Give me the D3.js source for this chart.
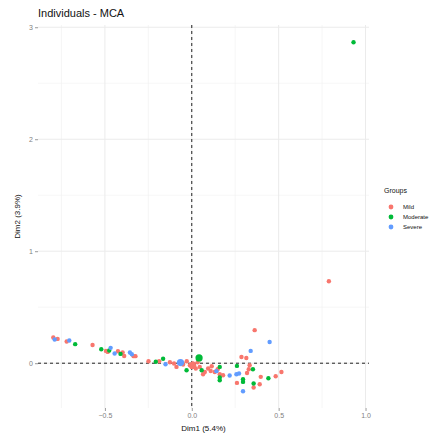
<!DOCTYPE html>
<html>
<head>
<meta charset="utf-8">
<script src="https://cdn.jsdelivr.net/npm/d3@7"></script>
<style>
  body { margin: 0; background: #fff; }
  svg { display: block; font-family: "Liberation Sans", Arial, sans-serif; }
</style>
</head>
<body>
<svg width="441" height="438"></svg>
<script>
// groups and their colours
const groups = ["Mild", "Moderate", "Severe"];
const groupColors = ["#F8766D", "#00BA38", "#619CFF"];

// individuals (Dim1, Dim2)
const mildPts = [
  [-0.797, 0.229], [-0.772, 0.217], [-0.720, 0.194], [-0.571, 0.163],
  [-0.494, 0.110], [-0.484, 0.101], [-0.425, 0.107], [-0.398, 0.096],
  [-0.389, 0.065], [-0.335, 0.063], [-0.324, 0.063], [-0.249, 0.018],
  [-0.188, 0.018], [-0.126, 0.009], [-0.102, -0.003], [-0.050, -0.012],
  [-0.088, -0.033], [-0.011, -0.018], [0.000, -0.033], [0.007, -0.003],
  [0.023, -0.047], [0.046, -0.033], [0.075, -0.078], [0.094, -0.047],
  [0.065, -0.098], [0.109, -0.069], [0.132, -0.078], [0.161, -0.098],
  [0.180, -0.107], [0.286, 0.056], [0.314, 0.047], [0.362, 0.295],
  [0.318, -0.087], [0.333, -0.018], [0.328, -0.054], [0.397, -0.122],
  [0.483, -0.116], [0.516, -0.078], [0.789, 0.732], [0.260, -0.176],
  [0.356, -0.217], [0.391, -0.188], [-0.029, 0.018], [0.034, 0.009],
  [0.115, -0.027], [0.149, -0.054]
];
const moderatePts = [
  [-0.671, 0.170], [-0.521, 0.125], [-0.475, 0.113], [-0.410, 0.083],
  [-0.207, 0.013], [-0.165, 0.040], [-0.030, -0.063], [0.057, -0.063],
  [0.161, -0.033], [0.161, -0.128], [0.260, -0.024], [0.352, -0.054],
  [0.441, -0.134], [0.161, -0.152], [0.295, -0.143], [0.295, -0.167],
  [0.356, -0.181], [0.931, 2.866]
];
const severePts = [
  [-0.789, 0.212], [-0.705, 0.203], [-0.467, 0.137], [-0.444, 0.087],
  [-0.356, 0.096], [-0.345, 0.080], [-0.151, -0.009], [0.142, -0.071],
  [0.218, -0.110], [0.257, -0.098], [0.272, -0.092], [0.339, 0.110],
  [0.448, 0.190], [0.295, -0.250]
];
// group mean points
const groupMeans = [[0.005, -0.020], [0.042, 0.047], [-0.065, 0.006]];

const xTicks = [-0.5, 0.0, 0.5, 1.0];
const yTicks = [0, 1, 2, 3];
const xMinor = [-0.75, -0.25, 0.25, 0.75];
const yMinor = [0.5, 1.5, 2.5];

const svg = d3.select("svg");
const panel = {left: 38, right: 369, top: 25, bottom: 408};

const x = d3.scaleLinear().domain([-0.885, 1.02]).range([panel.left, panel.right]);
const y = d3.scaleLinear().domain([-0.40, 3.02]).range([panel.bottom, panel.top]);
const color = d3.scaleOrdinal().domain(groups).range(groupColors);

// grid
const grid = svg.append("g");
grid.selectAll(".gxm").data(xMinor).enter().append("line")
  .attr("x1", d => x(d)).attr("x2", d => x(d))
  .attr("y1", panel.top).attr("y2", panel.bottom)
  .attr("stroke", "#f0f0f0").attr("stroke-width", 0.6);
grid.selectAll(".gym").data(yMinor).enter().append("line")
  .attr("y1", d => y(d)).attr("y2", d => y(d))
  .attr("x1", panel.left).attr("x2", panel.right)
  .attr("stroke", "#f0f0f0").attr("stroke-width", 0.6);
grid.selectAll(".gx").data(xTicks).enter().append("line")
  .attr("x1", d => x(d)).attr("x2", d => x(d))
  .attr("y1", panel.top).attr("y2", panel.bottom)
  .attr("stroke", "#ebebeb").attr("stroke-width", 1);
grid.selectAll(".gy").data(yTicks).enter().append("line")
  .attr("y1", d => y(d)).attr("y2", d => y(d))
  .attr("x1", panel.left).attr("x2", panel.right)
  .attr("stroke", "#ebebeb").attr("stroke-width", 1);

// axes (ticks + labels only)
const xAxis = svg.append("g")
  .attr("transform", "translate(0," + panel.bottom + ")")
  .call(d3.axisBottom(x).tickValues(xTicks).tickFormat(d3.format(".1f")).tickSize(3).tickPadding(2));
const yAxis = svg.append("g")
  .attr("transform", "translate(" + panel.left + ",0)")
  .call(d3.axisLeft(y).tickValues(yTicks).tickFormat(d3.format("d")).tickSize(3).tickPadding(2));
[xAxis, yAxis].forEach(a => {
  a.select(".domain").remove();
  a.selectAll(".tick line").attr("stroke", "#9a9a9a");
  a.selectAll(".tick text").attr("fill", "#808080").style("font-size", "7px")
    .style("font-family", "Liberation Sans, Arial, sans-serif");
});

// reference lines at 0
svg.append("line")
  .attr("x1", x(0)).attr("x2", x(0)).attr("y1", panel.top).attr("y2", panel.bottom)
  .attr("stroke", "#222").attr("stroke-width", 1).attr("stroke-dasharray", "3,3");
svg.append("line")
  .attr("y1", y(0)).attr("y2", y(0)).attr("x1", panel.left).attr("x2", panel.right)
  .attr("stroke", "#222").attr("stroke-width", 1).attr("stroke-dasharray", "3,3");

// points
const pts = [];
mildPts.forEach(p => pts.push({g: "Mild", x: p[0], y: p[1]}));
moderatePts.forEach(p => pts.push({g: "Moderate", x: p[0], y: p[1]}));
severePts.forEach(p => pts.push({g: "Severe", x: p[0], y: p[1]}));

svg.append("g").selectAll("circle").data(pts).enter().append("circle")
  .attr("cx", d => x(d.x)).attr("cy", d => y(d.y)).attr("r", 2.2)
  .attr("fill", d => color(d.g));

svg.append("g").selectAll("circle").data(groupMeans).enter().append("circle")
  .attr("cx", d => x(d[0])).attr("cy", d => y(d[1])).attr("r", 3.6)
  .attr("fill", (d, i) => groupColors[i]);

// titles
svg.append("text").attr("x", panel.left).attr("y", 17)
  .style("font-size", "11px").attr("fill", "#111").text("Individuals - MCA");
svg.append("text").attr("x", (panel.left + panel.right) / 2).attr("y", 431)
  .attr("text-anchor", "middle").style("font-size", "8px").attr("fill", "#111")
  .text("Dim1 (5.4%)");
svg.append("text")
  .attr("transform", "translate(20," + (panel.top + panel.bottom) / 2 + ") rotate(-90)")
  .attr("text-anchor", "middle").style("font-size", "8px").attr("fill", "#111")
  .text("Dim2 (3.9%)");

// legend
const lg = svg.append("g").attr("transform", "translate(384,0)");
lg.append("text").attr("x", 0).attr("y", 193).style("font-size", "7px").attr("fill", "#111").text("Groups");
const li = lg.selectAll(".li").data(groups).enter().append("g")
  .attr("transform", (d, i) => "translate(0," + (207 + i * 10) + ")");
li.append("circle").attr("cx", 7).attr("cy", 0).attr("r", 2.4).attr("fill", d => color(d));
li.append("text").attr("x", 19).attr("y", 2).style("font-size", "6px").attr("fill", "#111").text(d => d);
</script>
</body>
</html>
